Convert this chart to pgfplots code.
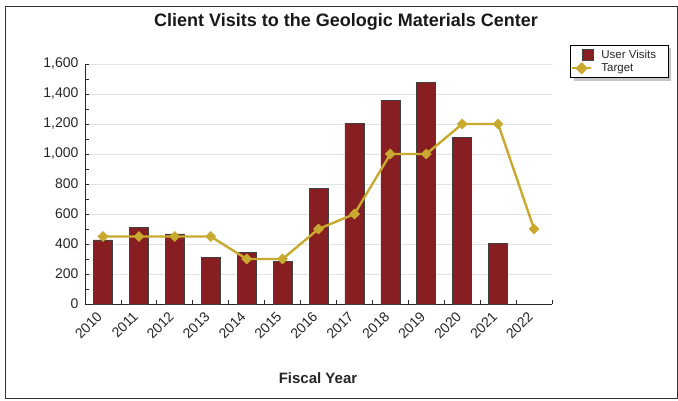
\documentclass[border=0pt]{standalone}
\usepackage{fontspec}
\setmainfont{Liberation Sans}
\usepackage{pgfplots}
\pgfplotsset{compat=1.18}
\definecolor{barred}{RGB}{135,30,34}
\definecolor{gold}{RGB}{201,169,48}
\begin{document}
\begin{tikzpicture}
\useasboundingbox (0pt,0pt) rectangle (678pt,401pt);
\draw[line width=1pt, black!80] (5pt,2pt) rectangle (677.5pt,394pt);
\node[font=\bfseries\fontsize{18}{19}\selectfont, text=black!90] at (346pt,379pt) {Client Visits to the Geologic Materials Center};
\node[font=\bfseries\fontsize{15}{16}\selectfont, text=black!85] at (318pt,23pt) {Fiscal Year};
\fill[gray!45] (573.5pt,320pt) rectangle (670.5pt,353pt);
\begin{axis}[
  at={(85pt,97pt)}, anchor=south west,
  scale only axis, width=467pt, height=240pt,
  xmin=-0.5, xmax=12.5, ymin=0, ymax=1600,
  axis x line=bottom, axis y line=left,
  axis line style={-, black!85, line width=0.8pt},
  ytick={0,200,...,1600}, minor ytick={100,300,...,1500},
  ymajorgrids, major grid style={gray!22, line width=0.9pt},
  tick style={black!85, line width=0.8pt},
  major tick length=4pt, minor tick length=4pt,
  tick align=inside,
  xtick={0,1,2,3,4,5,6,7,8,9,10,11,12},
  xticklabels={2010,2011,2012,2013,2014,2015,2016,2017,2018,2019,2020,2021,2022},
  major x tick style={draw=none},
  minor xtick={0.5,1.5,...,12.5},
  xticklabel style={xshift=-7pt, yshift=-5pt, rotate=45, anchor=north east, font=\fontsize{14}{14}\selectfont, text=black!85, inner sep=1pt},
  yticklabel style={font=\fontsize{14}{14}\selectfont, text=black!85, xshift=-3pt},
  /pgf/number format/assume math mode=true,
  /pgf/number format/1000 sep={,},
  scaled y ticks=false,
  clip=false,
  legend style={at={(1.0385,1.079)}, anchor=north west, draw=black, fill=white,
    font=\fontsize{11.5}{11}\selectfont, inner xsep=1pt, inner ysep=2.5pt, row sep=0pt,
    legend cell align=left, text=black!85},
]
\addplot[ybar, bar width=19pt, fill=barred, draw=black!75, line width=0.6pt,
  legend image code/.code={\draw[fill=barred, draw=black!75, line width=0.6pt] (10pt,-5.5pt) rectangle (21pt,5.5pt); \path (0pt,0pt) (26pt,0pt);}]
  coordinates {(0,427) (1,509) (2,467) (3,311) (4,344) (5,282) (6,769) (7,1204) (8,1356) (9,1476) (10,1111) (11,404)};
\addlegendentry{\makebox[64pt][l]{User Visits}}
\addplot[gold, line width=2.4pt, mark=square*, mark size=3.6pt,
  mark options={rotate=45, fill=gold, draw=gold, line width=0.4pt},
  legend image code/.code={\draw[gold, line width=2pt] (0pt,0pt) -- (19pt,0pt); \fill[gold] (9.5pt,0pt) +(-4.5pt,0) -- +(0,4.5pt) -- +(4.5pt,0) -- +(0,-4.5pt) -- cycle; \path (26pt,0pt);}]
  coordinates {(0,450) (1,450) (2,450) (3,450) (4,300) (5,300) (6,500) (7,600) (8,1000) (9,1000) (10,1200) (11,1200) (12,500)};
\addlegendentry{Target}
\end{axis}
\end{tikzpicture}
\end{document}
